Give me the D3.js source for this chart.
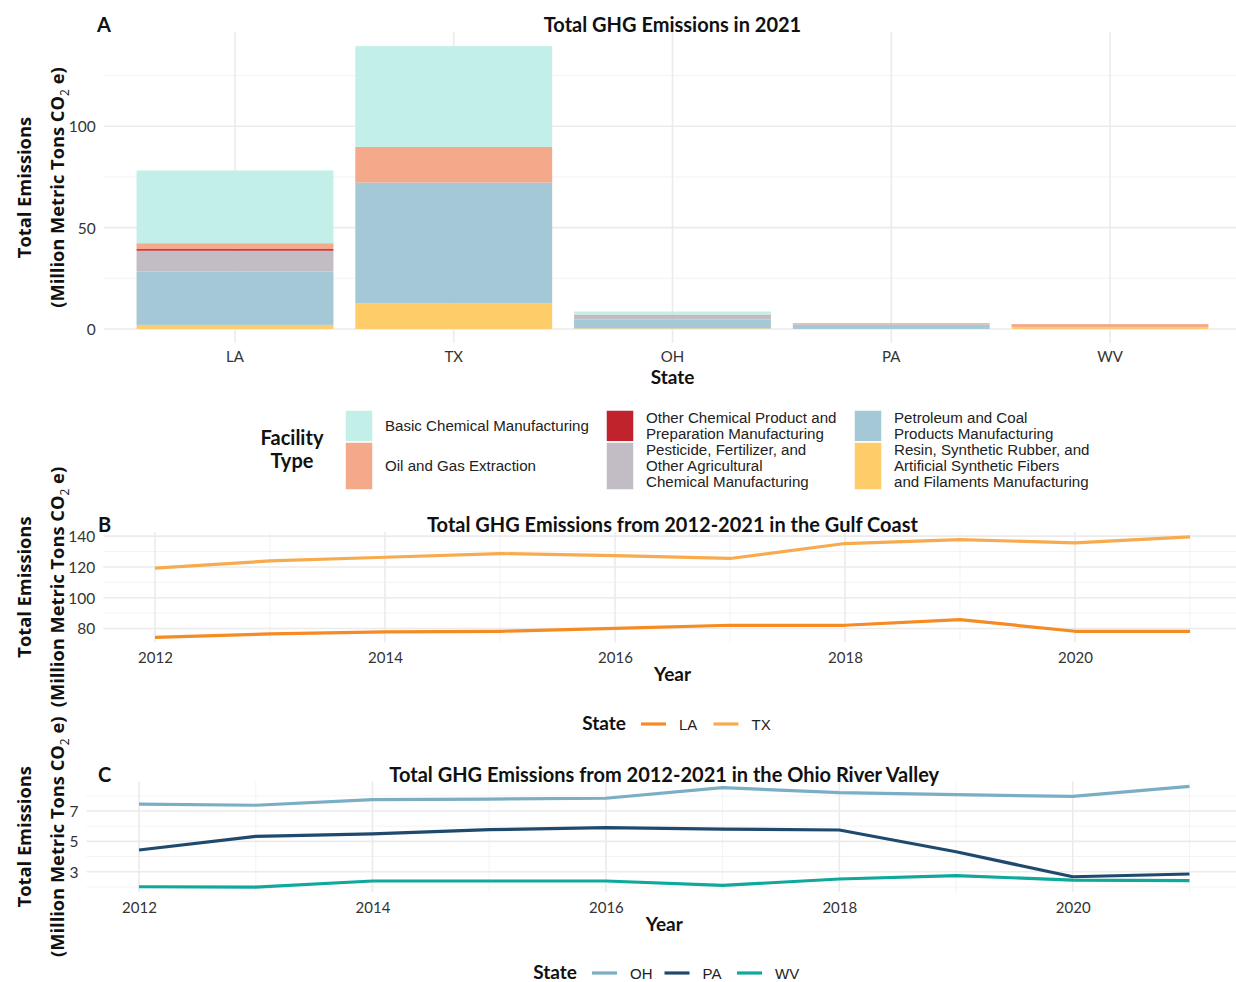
<!DOCTYPE html>
<html>
<head>
<meta charset="utf-8">
<script src="https://cdn.jsdelivr.net/npm/d3@7"></script>
<style>
  html, body { margin: 0; padding: 0; background: #fff; }
  svg { display: block; }
</style>
</head>
<body>
<svg id="chart" width="1236" height="982"></svg>
<script>
// ---- Panel A: 2021 emissions by state and facility type (million metric tons CO2e)
const states = ["LA", "TX", "OH", "PA", "WV"];
const facilityTypes = [
  "Basic Chemical Manufacturing",
  "Oil and Gas Extraction",
  "Other Chemical Product and Preparation Manufacturing",
  "Pesticide, Fertilizer, and Other Agricultural Chemical Manufacturing",
  "Petroleum and Coal Products Manufacturing",
  "Resin, Synthetic Rubber, and Artificial Synthetic Fibers and Filaments Manufacturing"
];
const facilityLabelLines = [
  ["Basic Chemical Manufacturing"],
  ["Oil and Gas Extraction"],
  ["Other Chemical Product and", "Preparation Manufacturing"],
  ["Pesticide, Fertilizer, and", "Other Agricultural", "Chemical Manufacturing"],
  ["Petroleum and Coal", "Products Manufacturing"],
  ["Resin, Synthetic Rubber, and", "Artificial Synthetic Fibers", "and Filaments Manufacturing"]
];
const basicChemical = [35.9, 49.7, 1.5, 0, 0];
const oilGas        = [2.9, 17.6, 0.5, 0.6, 1.5];
const otherChemical = [0.8, 0, 0.2, 0, 0];
const pesticide     = [10.3, 0, 1.8, 0, 0];
const petroleumCoal = [26.3, 59.5, 4.3, 2.25, 0];
const resinFibers   = [2.0, 12.7, 0.3, 0, 0.9];
const facilityColors = ["#C3EFE9", "#F4A98A", "#C1232D", "#C2BDC4", "#A5C8D6", "#FFCC6A"];

// ---- Panels B and C: yearly totals
const years = [2012, 2013, 2014, 2015, 2016, 2017, 2018, 2019, 2020, 2021];
const gulfLA = [74.3, 76.5, 77.8, 78.2, 80.1, 82.1, 82.1, 85.8, 78.2, 78.2];
const gulfTX = [119.2, 123.9, 126.3, 128.7, 127.3, 125.5, 135.2, 137.8, 135.6, 139.5];
const ohioOH = [7.46, 7.38, 7.75, 7.79, 7.84, 8.54, 8.21, 8.08, 7.96, 8.62];
const ohioPA = [4.43, 5.33, 5.49, 5.77, 5.90, 5.81, 5.75, 4.32, 2.67, 2.85];
const ohioWV = [2.01, 1.99, 2.39, 2.39, 2.39, 2.10, 2.52, 2.74, 2.45, 2.41];
const gulfStates = ["LA", "TX"];
const gulfColors = ["#F58B22", "#F7AB4E"];
const ohioStates = ["OH", "PA", "WV"];
const ohioColors = ["#79AEC4", "#1F4A6E", "#0FA89C"];

const yearTicks = [2012, 2014, 2016, 2018, 2020];
const yearMinor = [2013, 2015, 2017, 2019, 2021];
const ticksA = [0, 50, 100], minorA = [25, 75, 125];
const ticksB = [80, 100, 120, 140], minorB = [90, 110, 130];
const ticksC = [3, 5, 7], minorC = [2, 4, 6, 8];

const svg = d3.select("#chart");
const TITLE_FONT = "Lato, 'Open Sans', sans-serif";
const AXIS_TITLE_FONT = "'Open Sans', 'Noto Sans', sans-serif";
const LEGEND_FONT = "'Liberation Sans', Arial, sans-serif";
const MAJOR = "#EBEBEB", MINOR = "#F3F3F3";

function expand(lo, hi) { const d = (hi - lo) * 0.05; return [lo - d, hi + d]; }

function grid(g, xVals, xScale, yVals, yScale, color, width, x0, x1, y0, y1) {
  g.selectAll(null).data(yVals).join("line")
    .attr("x1", x0).attr("x2", x1)
    .attr("y1", d => yScale(d)).attr("y2", d => yScale(d))
    .attr("stroke", color).attr("stroke-width", width);
  g.selectAll(null).data(xVals).join("line")
    .attr("x1", d => xScale(d)).attr("x2", d => xScale(d))
    .attr("y1", y0).attr("y2", y1)
    .attr("stroke", color).attr("stroke-width", width);
}

function styleAxis(g, size) {
  g.select(".domain").remove();
  g.selectAll("line").remove();
  g.selectAll("text").attr("font-family", TITLE_FONT).attr("font-size", size).attr("fill", "#333");
}

function yTitle(cx, cy) {
  const g = svg.append("g").attr("transform", `translate(${cx},${cy}) rotate(-90)`)
    .attr("font-family", AXIS_TITLE_FONT).attr("font-weight", "bold").attr("font-size", 18.3)
    .attr("text-anchor", "middle").attr("fill", "#111");
  g.append("text").attr("y", 0).text("Total Emissions");
  const t = g.append("text").attr("y", 33);
  t.append("tspan").text("(Million Metric Tons CO");
  t.append("tspan").attr("font-size", 12).attr("font-weight", "normal").attr("dy", 5).text("2");
  t.append("tspan").attr("dy", -5).text(" e)");
}

function panelTitle(x, y, tag, tagX, text) {
  svg.append("text").attr("x", tagX).attr("y", y).text(tag)
    .attr("font-family", TITLE_FONT).attr("font-weight", "bold").attr("font-size", 20).attr("fill", "#111");
  svg.append("text").attr("x", x).attr("y", y).text(text).attr("text-anchor", "middle")
    .attr("font-family", TITLE_FONT).attr("font-weight", "bold").attr("font-size", 20).attr("fill", "#111");
}

function xTitle(x, y, text) {
  svg.append("text").attr("x", x).attr("y", y).text(text).attr("text-anchor", "middle")
    .attr("font-family", TITLE_FONT).attr("font-weight", "bold").attr("font-size", 19).attr("fill", "#111");
}

// ================= Panel A =================
{
  const left = 103.75, right = 1241.25, top = 32, bottom = 343.1;
  const series = [basicChemical, oilGas, otherChemical, pesticide, petroleumCoal, resinFibers];
  const rows = states.map((s, i) => {
    const r = { state: s };
    facilityTypes.forEach((f, k) => { r[f] = series[k][i]; });
    return r;
  });
  const x = d3.scaleBand().domain(states).range([left, right]).paddingInner(0.1).paddingOuter(0.15);
  const maxTotal = d3.max(rows, r => d3.sum(facilityTypes, f => r[f]));
  const y = d3.scaleLinear().domain(expand(0, maxTotal)).range([bottom, top]);

  const g = svg.append("g");
  grid(g, [], x, minorA, y, MINOR, 1, left, right, top, bottom);
  grid(g, [], x, ticksA, y, MAJOR, 1.6, left, right, top, bottom);
  g.selectAll(null).data(states).join("line")
    .attr("x1", d => x(d) + x.bandwidth() / 2).attr("x2", d => x(d) + x.bandwidth() / 2)
    .attr("y1", top).attr("y2", bottom).attr("stroke", MAJOR).attr("stroke-width", 1.6);

  // first factor level sits on top of the stack
  const stack = d3.stack().keys(facilityTypes.slice().reverse());
  const layers = stack(rows);
  const color = d3.scaleOrdinal().domain(facilityTypes).range(facilityColors);
  g.selectAll(".layer").data(layers).join("g").attr("fill", d => color(d.key))
    .selectAll("rect").data(d => d).join("rect")
    .attr("x", d => x(d.data.state)).attr("width", x.bandwidth())
    .attr("y", d => y(d[1])).attr("height", d => Math.max(0, y(d[0]) - y(d[1])));

  const ay = svg.append("g").attr("transform", `translate(${left - 8},0)`)
    .call(d3.axisLeft(y).tickValues(ticksA).tickSize(0).tickPadding(0));
  styleAxis(ay, 15.5);
  ay.selectAll("text").attr("dy", "0.35em");
  const ax = svg.append("g").attr("transform", `translate(0,${bottom + 5})`)
    .call(d3.axisBottom(x).tickSize(0).tickPadding(0));
  styleAxis(ax, 15);
  ax.selectAll("text").attr("dy", "0.9em");

  panelTitle((left + right) / 2, 32, "A", 97, "Total GHG Emissions in 2021");
  xTitle((left + right) / 2, 384, "State");
  yTitle(31, (top + bottom) / 2);

  // facility legend: two rows per column
  const lg = svg.append("g");
  lg.append("text").attr("x", 292).attr("y", 445).attr("text-anchor", "middle")
    .attr("font-family", TITLE_FONT).attr("font-weight", "bold").attr("font-size", 20).attr("fill", "#111")
    .selectAll("tspan").data(["Facility", "Type"]).join("tspan")
    .attr("x", 292).attr("dy", (d, i) => i === 0 ? 0 : 23).text(d => d);
  const colX = [345, 606, 854];
  const rowTop = [410, 442], rowH = [32, 48];
  facilityTypes.forEach((f, k) => {
    const c = Math.floor(k / 2), r = k % 2;
    lg.append("rect").attr("x", colX[c]).attr("y", rowTop[r]).attr("width", 28).attr("height", rowH[r])
      .attr("fill", color(f)).attr("stroke", "#fff").attr("stroke-width", 1.5);
    const lines = facilityLabelLines[k];
    const cy = rowTop[r] + rowH[r] / 2;
    const lh = 15.8;
    lg.append("text").attr("font-family", LEGEND_FONT).attr("font-size", 15.1).attr("fill", "#222")
      .selectAll("tspan").data(lines).join("tspan")
      .attr("x", colX[c] + 40)
      .attr("y", (d, i) => cy + (i - (lines.length - 1) / 2) * lh + 5)
      .text(d => d);
  });
}

// ================= Line panels =================
function linePanel(opts) {
  const { left, right, top, bottom, seriesVals, names, colors, ticks, minor } = opts;
  const x = d3.scaleLinear().domain(expand(years[0], years[years.length - 1])).range([left, right]);
  const all = seriesVals.flat();
  const y = d3.scaleLinear().domain(expand(d3.min(all), d3.max(all))).range([bottom, top]);
  const g = svg.append("g");
  grid(g, yearMinor, x, minor.filter(v => v >= y.domain()[0] && v <= y.domain()[1]), y, MINOR, 1, left, right, top, bottom);
  grid(g, yearTicks, x, ticks, y, MAJOR, 1.6, left, right, top, bottom);
  const line = d3.line().x((d, i) => x(years[i])).y(d => y(d));
  seriesVals.forEach((vals, k) => {
    g.append("path").datum(vals).attr("d", line).attr("fill", "none")
      .attr("stroke", colors[k]).attr("stroke-width", 3.2).attr("stroke-linejoin", "round");
  });
  const ay = svg.append("g").attr("transform", `translate(${left - 8},0)`)
    .call(d3.axisLeft(y).tickValues(ticks).tickSize(0).tickPadding(0));
  styleAxis(ay, 15.5);
  ay.selectAll("text").attr("dy", "0.35em");
  const ax = svg.append("g").attr("transform", `translate(0,${bottom + 7})`)
    .call(d3.axisBottom(x).tickValues(yearTicks).tickFormat(d3.format("d")).tickSize(0).tickPadding(0));
  styleAxis(ax, 15);
  ax.selectAll("text").attr("dy", "0.9em");

  panelTitle((left + right) / 2, opts.titleY, opts.tag, 98, opts.title);
  xTitle((left + right) / 2, opts.xTitleY, "Year");
  yTitle(31, (top + bottom) / 2);

  // state legend
  const lg = svg.append("g");
  lg.append("text").attr("x", opts.legendX).attr("y", opts.legendY + 6).text("State")
    .attr("text-anchor", "end")
    .attr("font-family", TITLE_FONT).attr("font-weight", "bold").attr("font-size", 19).attr("fill", "#111");
  names.forEach((n, k) => {
    const kx = opts.legendX + 15 + k * 72.5;
    lg.append("line").attr("x1", kx).attr("x2", kx + 25).attr("y1", opts.legendY).attr("y2", opts.legendY)
      .attr("stroke", colors[k]).attr("stroke-width", 3.2);
    lg.append("text").attr("x", kx + 38).attr("y", opts.legendY + 5.5).text(n)
      .attr("font-family", LEGEND_FONT).attr("font-size", 15).attr("fill", "#222");
  });
}

linePanel({
  left: 103.25, right: 1241.75, top: 531.9, bottom: 642.3,
  seriesVals: [gulfLA, gulfTX], names: gulfStates, colors: gulfColors,
  ticks: ticksB, minor: minorB, tag: "B", titleY: 532,
  title: "Total GHG Emissions from 2012-2021 in the Gulf Coast",
  xTitleY: 681, legendX: 626, legendY: 724
});

linePanel({
  left: 86.5, right: 1242, top: 781.4, bottom: 892.1,
  seriesVals: [ohioOH, ohioPA, ohioWV], names: ohioStates, colors: ohioColors,
  ticks: ticksC, minor: minorC, tag: "C", titleY: 782,
  title: "Total GHG Emissions from 2012-2021 in the Ohio River Valley",
  xTitleY: 931, legendX: 577, legendY: 973
});
</script>
</body>
</html>
